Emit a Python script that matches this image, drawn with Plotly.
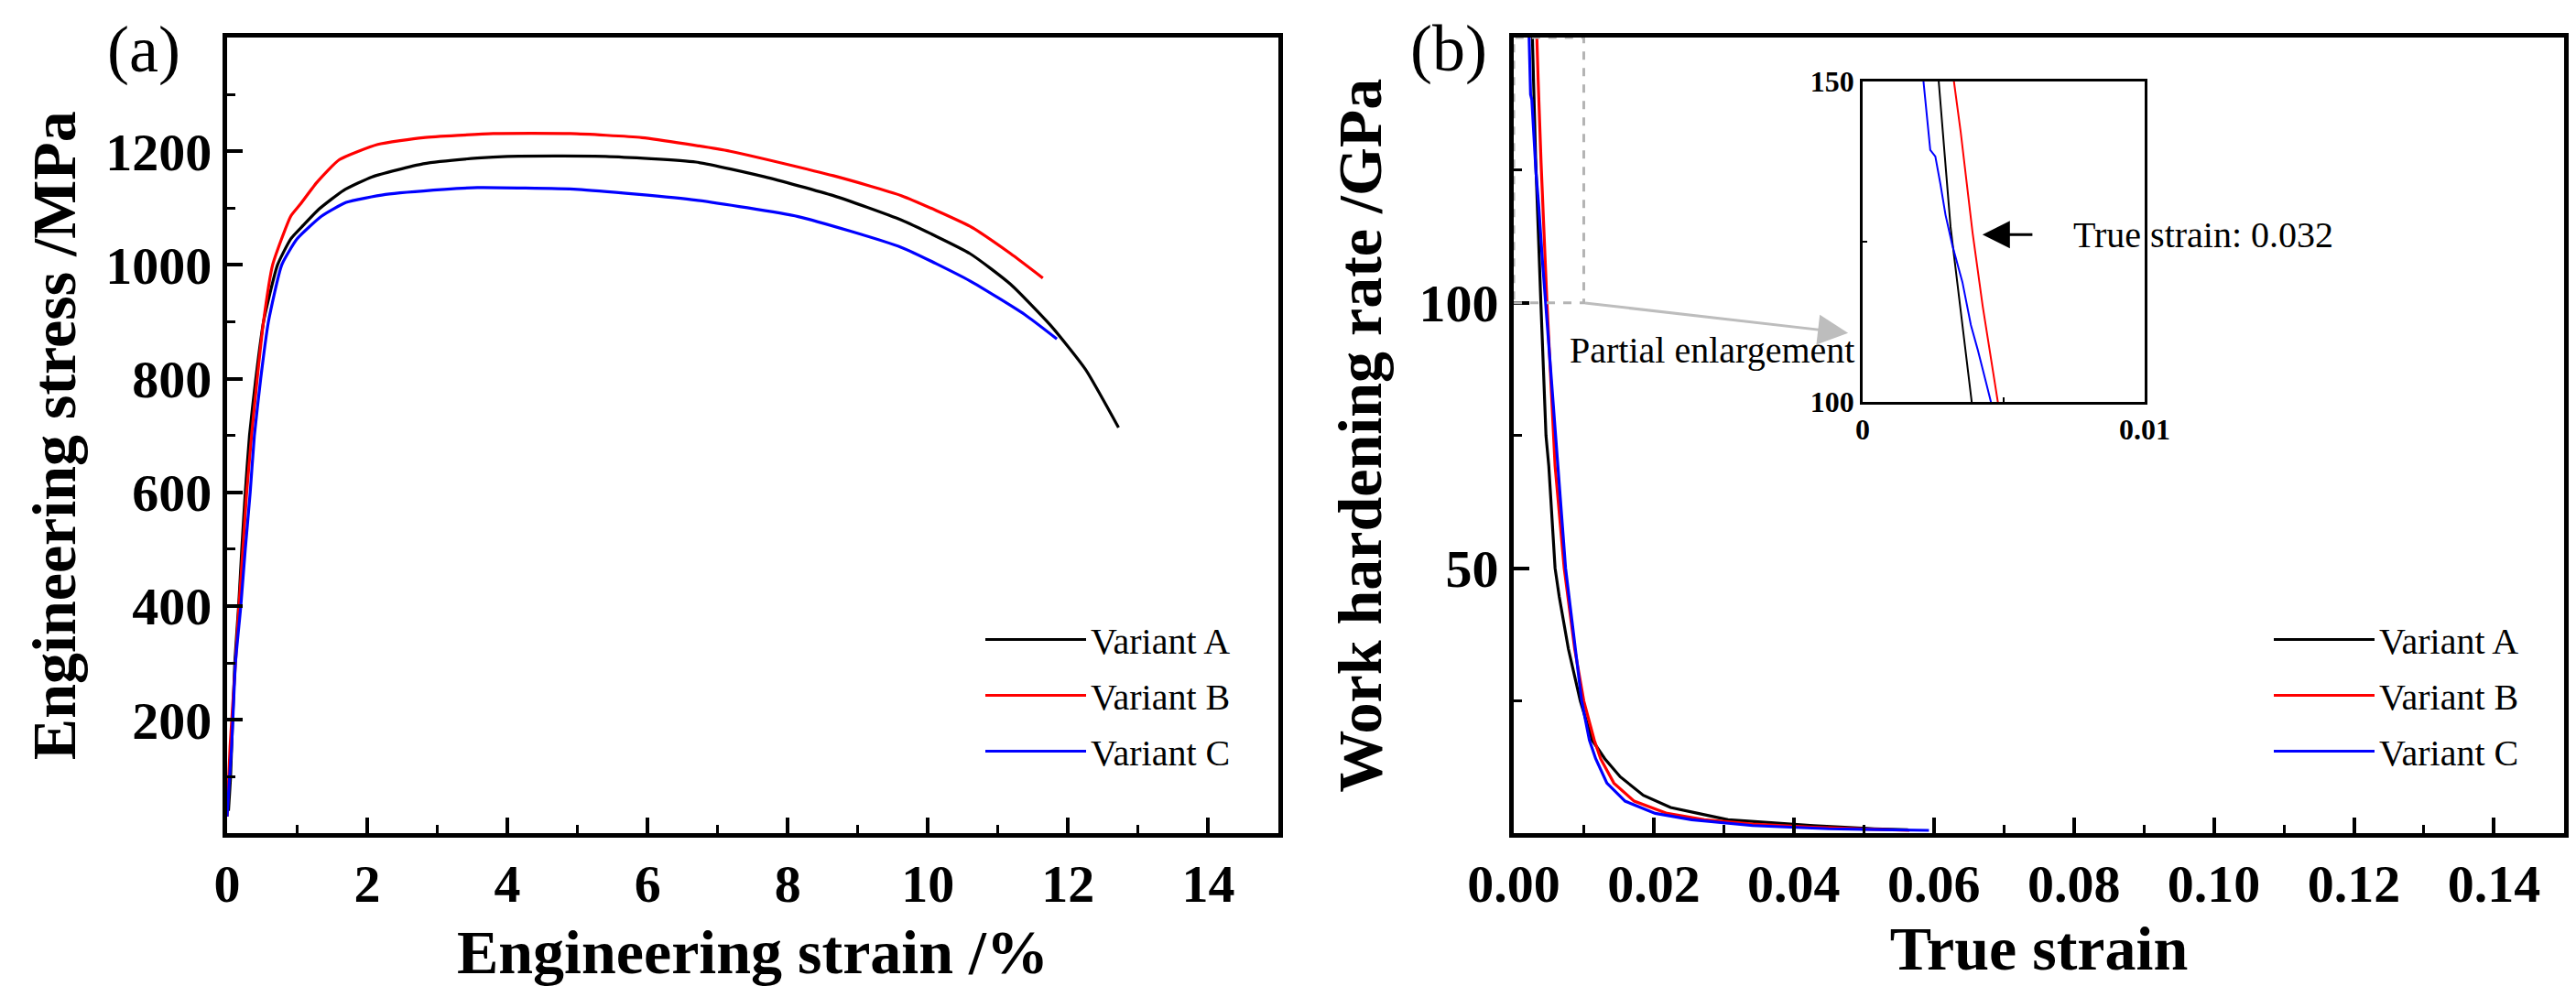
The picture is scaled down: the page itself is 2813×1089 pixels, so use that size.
"""
plot.py - stress-strain curves and work hardening rate, recreated with Plotly
"""
import plotly.graph_objects as go

# ---- (a) engineering stress / strain ----
eng_strain_a = [0.02, 0.05, 0.11, 0.165, 0.21, 0.26, 0.32, 0.41, 0.52, 0.72, 0.91, 1.09, 1.31, 1.66,
                2.07, 2.8, 3.57, 4.0, 5.4, 6.69, 7.67, 8.65, 9.62, 10.6, 11.18, 11.77, 12.25, 12.72]
eng_stress_a = [40, 100, 300, 400, 500, 600, 700, 800, 900, 1000, 1046, 1070, 1098, 1131,
                1155, 1178, 1188, 1191, 1191, 1181, 1155, 1122, 1079, 1020, 966, 891, 816, 714]

eng_strain_b = [0.0, 0.043, 0.12, 0.17, 0.226, 0.28, 0.35, 0.43, 0.52, 0.65, 0.91, 1.04, 1.28, 1.6,
                2.15, 2.8, 3.8, 4.9, 5.92, 7.18, 8.65, 9.62, 10.6, 11.18, 11.64]
eng_stress_b = [30, 153, 300, 400, 500, 600, 700, 800, 900, 1000, 1086, 1106, 1145, 1185,
                1212, 1224, 1231, 1231, 1224, 1200, 1157, 1122, 1068, 1020, 977]

eng_strain_c = [0.0, 0.065, 0.12, 0.196, 0.26, 0.33, 0.39, 0.48, 0.59, 0.78, 1.0, 1.35, 1.7, 2.26,
                3.1, 3.57, 5.0, 6.69, 8.15, 9.62, 10.6, 11.38, 11.84]
eng_stress_c = [30, 153, 300, 400, 500, 600, 700, 800, 900, 1000, 1046, 1086, 1110, 1124,
                1133, 1136, 1133, 1114, 1085, 1031, 972, 913, 870]

# ---- (b) work hardening rate / true strain ----
true_strain_a = [0.00236, 0.0027, 0.00312, 0.00387, 0.0046, 0.0050, 0.0059, 0.0065, 0.0078, 0.0095,
                 0.0112, 0.0130, 0.0152, 0.0185, 0.0224, 0.0263, 0.0306, 0.0363, 0.0428, 0.0515, 0.0563]
hardening_a = [165, 150, 127.3, 100, 75, 69.3, 50, 44.6, 34.8, 25,
               17.6, 14.1, 10.7, 7.2, 4.9, 3.8, 2.6, 2.1, 1.5, 0.9, 0.7]

true_strain_b = [0.00295, 0.00324, 0.00348, 0.0039, 0.00426, 0.00474, 0.0059, 0.0072, 0.0087, 0.0100,
                 0.0115, 0.0124, 0.0143, 0.0172, 0.0219, 0.0272, 0.0341, 0.0428, 0.0515, 0.0565]
hardening_b = [165, 150, 142.1, 126.4, 114.9, 100, 69.3, 50, 34.8, 25,
               17.6, 14.1, 9.5, 6.1, 3.8, 2.6, 1.8, 1.2, 0.8, 0.6]

true_strain_c = [0.0019, 0.00216, 0.0024, 0.00258, 0.00276, 0.00294, 0.00318, 0.00354, 0.00384,
                 0.00408, 0.00438, 0.00456, 0.0054, 0.0063, 0.0074, 0.0088, 0.0097, 0.0108, 0.0117,
                 0.0133, 0.0159, 0.0202, 0.0254, 0.0341, 0.045, 0.0593]
hardening_c = [165, 150, 139.3, 138.3, 134, 129.2, 124.5, 118.7, 112,
               108.2, 103, 100, 85, 69.3, 50, 34.8, 25, 17.6, 14.1,
               9.5, 6.1, 3.8, 2.6, 1.5, 0.9, 0.6]

names = ["Variant A", "Variant B", "Variant C"]
colors = ["#000000", "#ff0000", "#0000ff"]

# zoomed window of panel (b)
inset_x = [0, 0.01]
inset_y = [100, 150]

SERIF = "Liberation Serif"

fig = go.Figure()

panel_a = [(eng_strain_a, eng_stress_a), (eng_strain_b, eng_stress_b), (eng_strain_c, eng_stress_c)]
panel_b = [(true_strain_a, hardening_a), (true_strain_b, hardening_b), (true_strain_c, hardening_c)]

for (x, y), name, c in zip(panel_a, names, colors):
    fig.add_trace(go.Scatter(x=x, y=y, mode="lines", name=name,
                             line=dict(color=c, width=3.2, shape="spline", smoothing=0.5),
                             xaxis="x", yaxis="y", legend="legend", legendgroup="a" + name))

for (x, y), name, c in zip(panel_b, names, colors):
    fig.add_trace(go.Scatter(x=x, y=y, mode="lines", name=name, line=dict(color=c, width=3.2),
                             xaxis="x2", yaxis="y2", legend="legend2", legendgroup="b" + name))

# inset: same curves, zoomed
for (x, y), name, c in zip(panel_b, names, colors):
    fig.add_trace(go.Scatter(x=x, y=y, mode="lines", name=name, line=dict(color=c, width=2),
                             xaxis="x3", yaxis="y3", showlegend=False))

main_axis = dict(showline=True, linewidth=5, linecolor="black", mirror=True,
                 ticks="inside", ticklen=17, tickwidth=4, tickcolor="black",
                 showgrid=False, zeroline=False, automargin=False,
                 tickfont=dict(family=SERIF, size=58, color="black", weight="bold"),
                 title_font=dict(family=SERIF, size=68, color="black", weight="bold"))
minor = dict(ticks="inside", ticklen=9, tickwidth=3, tickcolor="black", showgrid=False)
inset_axis = dict(showline=True, linewidth=2.5, linecolor="black", mirror=True,
                  ticks="inside", ticklen=5, tickwidth=2, tickcolor="black",
                  showgrid=False, zeroline=False, automargin=False,
                  tickfont=dict(family=SERIF, size=32, color="black", weight="bold"))
legend_style = dict(xanchor="left", yanchor="top", bgcolor="rgba(0,0,0,0)",
                    traceorder="grouped", tracegroupgap=6, itemwidth=110,
                    font=dict(family=SERIF, size=40, color="black"))

fig.update_layout(
    width=2813, height=1089,
    margin=dict(l=0, r=0, t=0, b=0, autoexpand=False),
    font=dict(family=SERIF, color="black"),
    paper_bgcolor="white", plot_bgcolor="white",
    showlegend=True,
    xaxis=dict(main_axis, domain=[0.0853, 0.4934], range=[0, 15], dtick=2, tick0=0,
               minor=dict(minor, tickvals=[1, 3, 5, 7, 9, 11, 13]),
               title=dict(text="Engineering strain /%", standoff=20), anchor="y"),
    yaxis=dict(main_axis, domain=[0.1713, 0.9697], range=[0, 1400],
               tickvals=[200, 400, 600, 800, 1000, 1200],
               minor=dict(minor, tickvals=[100, 300, 500, 700, 900, 1100, 1300]),
               title=dict(text="Engineering stress /MPa", standoff=12), anchor="x"),
    xaxis2=dict(main_axis, domain=[0.5848, 0.9925], range=[0, 0.15], dtick=0.02, tick0=0,
                tickformat=".2f",
                minor=dict(minor, tickvals=[0.01, 0.03, 0.05, 0.07, 0.09, 0.11, 0.13]),
                title=dict(text="True strain", standoff=14), anchor="y2"),
    yaxis2=dict(main_axis, domain=[0.1713, 0.9697], range=[0, 150], tickvals=[50, 100],
                minor=dict(minor, tickvals=[25, 75, 125]),
                title=dict(text="Work hardening rate /GPa", standoff=20), anchor="x2"),
    xaxis3=dict(inset_axis, domain=[0.7202, 0.8297], range=inset_x, anchor="y3",
                tickvals=[0, 0.005, 0.01], ticktext=["0", "", "0.01"]),
    yaxis3=dict(inset_axis, domain=[0.6042, 0.9256], range=inset_y, anchor="x3",
                tickvals=[100, 125, 150], ticktext=["100", "", "150"]),
    legend=dict(legend_style, x=1063 / 2813, y=1 - 658 / 1089),
    legend2=dict(legend_style, x=2470 / 2813, y=1 - 658 / 1089),
)

# dashed box marking the enlarged window
fig.add_shape(type="rect", xref="x2", yref="y2",
              x0=inset_x[0], x1=inset_x[1], y0=inset_y[0], y1=inset_y[1],
              line=dict(color="#b4b4b4", width=3, dash="dash"))

# grey arrow from the window to the inset
fig.add_annotation(xref="x2", yref="y2", axref="x2", ayref="y2",
                   x=0.04775, y=94.3, ax=inset_x[1], ay=inset_y[0],
                   text="", showarrow=True, arrowhead=2, arrowsize=2.2, arrowwidth=3,
                   arrowcolor="#bdbdbd")
fig.add_annotation(xref="x2", yref="y2", x=0.02826, y=91.0, text="Partial enlargement",
                   showarrow=False, font=dict(family=SERIF, size=40, color="black"))

# black arrow + label inside the inset
fig.add_annotation(xref="x3", yref="y3", axref="x3", ayref="y3",
                   x=0.00425, y=126.1, ax=0.00607, ay=126.1,
                   text="", showarrow=True, arrowhead=2, arrowsize=2, arrowwidth=3,
                   arrowcolor="black")
fig.add_annotation(xref="x3", yref="y3", x=0.0074, y=126.1, xanchor="left",
                   text="True strain: 0.032", showarrow=False,
                   font=dict(family=SERIF, size=40, color="black"))

# panel letters
fig.add_annotation(xref="paper", yref="paper", x=149 / 2813, y=1 - 46 / 1089,
                   xanchor="center", yanchor="middle",
                   text="(a)", showarrow=False, font=dict(family=SERIF, size=72, color="black"))
fig.add_annotation(xref="paper", yref="paper", x=1574 / 2813, y=1 - 45 / 1089,
                   xanchor="center", yanchor="middle",
                   text="(b)", showarrow=False, font=dict(family=SERIF, size=72, color="black"))

fig.write_html("out.html")
print("saved -> out.html")
